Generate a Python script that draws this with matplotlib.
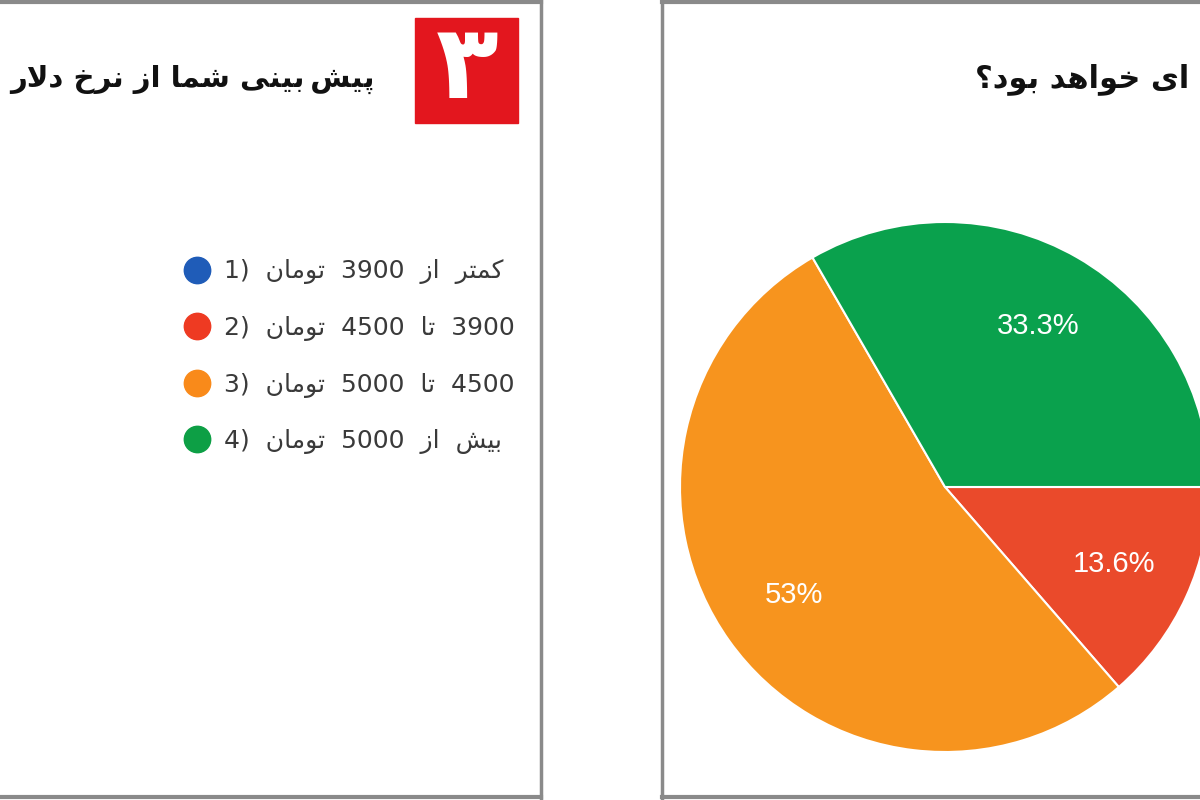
import matplotlib
matplotlib.use('Agg')
import matplotlib.pyplot as plt
from matplotlib.patches import Rectangle
from matplotlib.lines import Line2D

# survey result (percent)
answers = ['کمتر از 3900 تومان (1', '3900 تا 4500 تومان (2',
           '4500 تا 5000 تومان (3', 'بیش از 5000 تومان (4']
shares = [0, 13.6, 53, 33.3]
colors = ['#1f5cb8', '#ea4a2b', '#f7941e', '#0aa14d']
legend_colors = ['#1f5cb8', '#ee3a22', '#f98a1a', '#0d9f45']

title_left = 'پیش‌بینی شما از نرخ دلار'
title_right = 'ای خواهد بود؟'
badge = '۳'

# --- tiny persian shaper (matplotlib has no RTL layout) ---
FORMS = {
    'ا': ('\uFE8D', '\uFE8E', None, None),
    'ب': ('\uFE8F', '\uFE90', '\uFE91', '\uFE92'),
    'پ': ('\uFB56', '\uFB57', '\uFB58', '\uFB59'),
    'ت': ('\uFE95', '\uFE96', '\uFE97', '\uFE98'),
    'چ': ('\uFB7A', '\uFB7B', '\uFB7C', '\uFB7D'),
    'خ': ('\uFEA5', '\uFEA6', '\uFEA7', '\uFEA8'),
    'د': ('\uFEA9', '\uFEAA', None, None),
    'ر': ('\uFEAD', '\uFEAE', None, None),
    'ز': ('\uFEAF', '\uFEB0', None, None),
    'س': ('\uFEB1', '\uFEB2', '\uFEB3', '\uFEB4'),
    'ش': ('\uFEB5', '\uFEB6', '\uFEB7', '\uFEB8'),
    'ق': ('\uFED5', '\uFED6', '\uFED7', '\uFED8'),
    'ک': ('\uFB8E', '\uFB8F', '\uFB90', '\uFB91'),
    'ل': ('\uFEDD', '\uFEDE', '\uFEDF', '\uFEE0'),
    'م': ('\uFEE1', '\uFEE2', '\uFEE3', '\uFEE4'),
    'ن': ('\uFEE5', '\uFEE6', '\uFEE7', '\uFEE8'),
    'ه': ('\uFEE9', '\uFEEA', '\uFEEB', '\uFEEC'),
    'و': ('\uFEED', '\uFEEE', None, None),
    'ی': ('\uFBFC', '\uFBFD', '\uFBFE', '\uFBFF'),
}
MIRROR = str.maketrans('()', ')(')


def shape_word(w):
    units = []
    i = 0
    while i < len(w):
        if w[i] == 'ل' and i + 1 < len(w) and w[i + 1] == 'ا':
            units.append('LA')
            i += 2
        else:
            units.append(w[i])
            i += 1
    out = []
    for k, u in enumerate(units):
        if u == 'LA' or u in FORMS:
            prev = units[k - 1] if k > 0 else None
            nxt = units[k + 1] if k + 1 < len(units) else None
            p = prev in FORMS and FORMS[prev][2] is not None
            n = (u != 'LA' and FORMS[u][2] is not None and
                 (nxt == 'LA' or nxt in FORMS))
            if u == 'LA':
                out.append('\uFEFC' if p else '\uFEFB')
                continue
            f = FORMS[u]
            out.append(f[3] if p and n else f[1] if p else f[2] if n else f[0])
        elif u == '\u200c':
            out.append('\u2009')
        else:
            out.append(u)
    return ''.join(reversed(out))


def rtl(s, gap=' '):
    toks = []
    for t in s.split(' '):
        if any(c in FORMS for c in t):
            toks.append(shape_word(t))
        else:
            lead = len(t) - len(t.lstrip('()'))
            trail = len(t) - len(t.rstrip('()'))
            core = t[lead:len(t) - trail]
            toks.append(t[len(t) - trail:].translate(MIRROR)[::-1] + core +
                        t[:lead].translate(MIRROR)[::-1])
    return gap.join(reversed(toks))


fig = plt.figure(figsize=(12, 8), dpi=100)
fig.patch.set_facecolor('white')

# background layer in pixel coords
bg = fig.add_axes([0, 0, 1, 1])
bg.set_xlim(0, 1200)
bg.set_ylim(800, 0)
bg.axis('off')

frame = '#8a8a8a'
bg.plot([0, 541], [2, 2], color=frame, lw=3)
bg.plot([541, 541], [0, 800], color=frame, lw=2.5)
bg.plot([0, 541], [797, 797], color=frame, lw=3)
bg.plot([662, 1200], [2, 2], color=frame, lw=3)
bg.plot([662, 662], [0, 800], color=frame, lw=2.5)
bg.plot([662, 1200], [797, 797], color=frame, lw=3)

bg.add_patch(Rectangle((415, 18), 103, 105, color='#e3161e'))
bg.text(467, 70, badge, color='white', fontsize=74, fontweight='bold',
        family='DejaVu Sans', ha='center', va='center')

bg.text(375, 79, rtl(title_left), fontsize=21, fontweight='bold',
        family='DejaVu Sans', ha='right', va='center', color='#111111')
bg.text(975, 79, rtl(title_right), fontsize=22, fontweight='bold',
        family='DejaVu Sans', ha='left', va='center', color='#111111')

# legend
handles = [Line2D([], [], marker='o', ls='', markersize=19,
                  markerfacecolor=c, markeredgecolor=c) for c in legend_colors]
fig.legend(handles, [rtl(a, gap='  ') for a in answers], loc='upper left',
           bbox_to_anchor=(162 / 1200, 1 - 237 / 800), frameon=False,
           labelspacing=1.26, handlelength=1.0,
           handletextpad=0.6, labelcolor='#3a3a3a',
           prop={'family': 'DejaVu Sans', 'size': 18})

# pie
cx, cy, r = 945, 487, 265
ax = fig.add_axes([(cx - r) / 1200, (800 - cy - r) / 800, 2 * r / 1200, 2 * r / 800])
total = sum(shares)


def fmt(p):
    v = round(p * total / 100, 1)
    return '' if v < 0.5 else '%g%%' % v


wedges, texts, autotexts = ax.pie(shares, colors=colors, startangle=0,
                                  counterclock=False, autopct=fmt,
                                  pctdistance=0.7,
                                  wedgeprops={'edgecolor': 'white', 'linewidth': 1.5},
                                  textprops={'color': 'white', 'fontsize': 21,
                                             'family': 'Liberation Sans'})
ax.set_xlim(-1, 1)
ax.set_ylim(-1, 1)
ax.set_aspect('equal')
ax.axis('off')

fig.savefig('out.png', dpi=100)
